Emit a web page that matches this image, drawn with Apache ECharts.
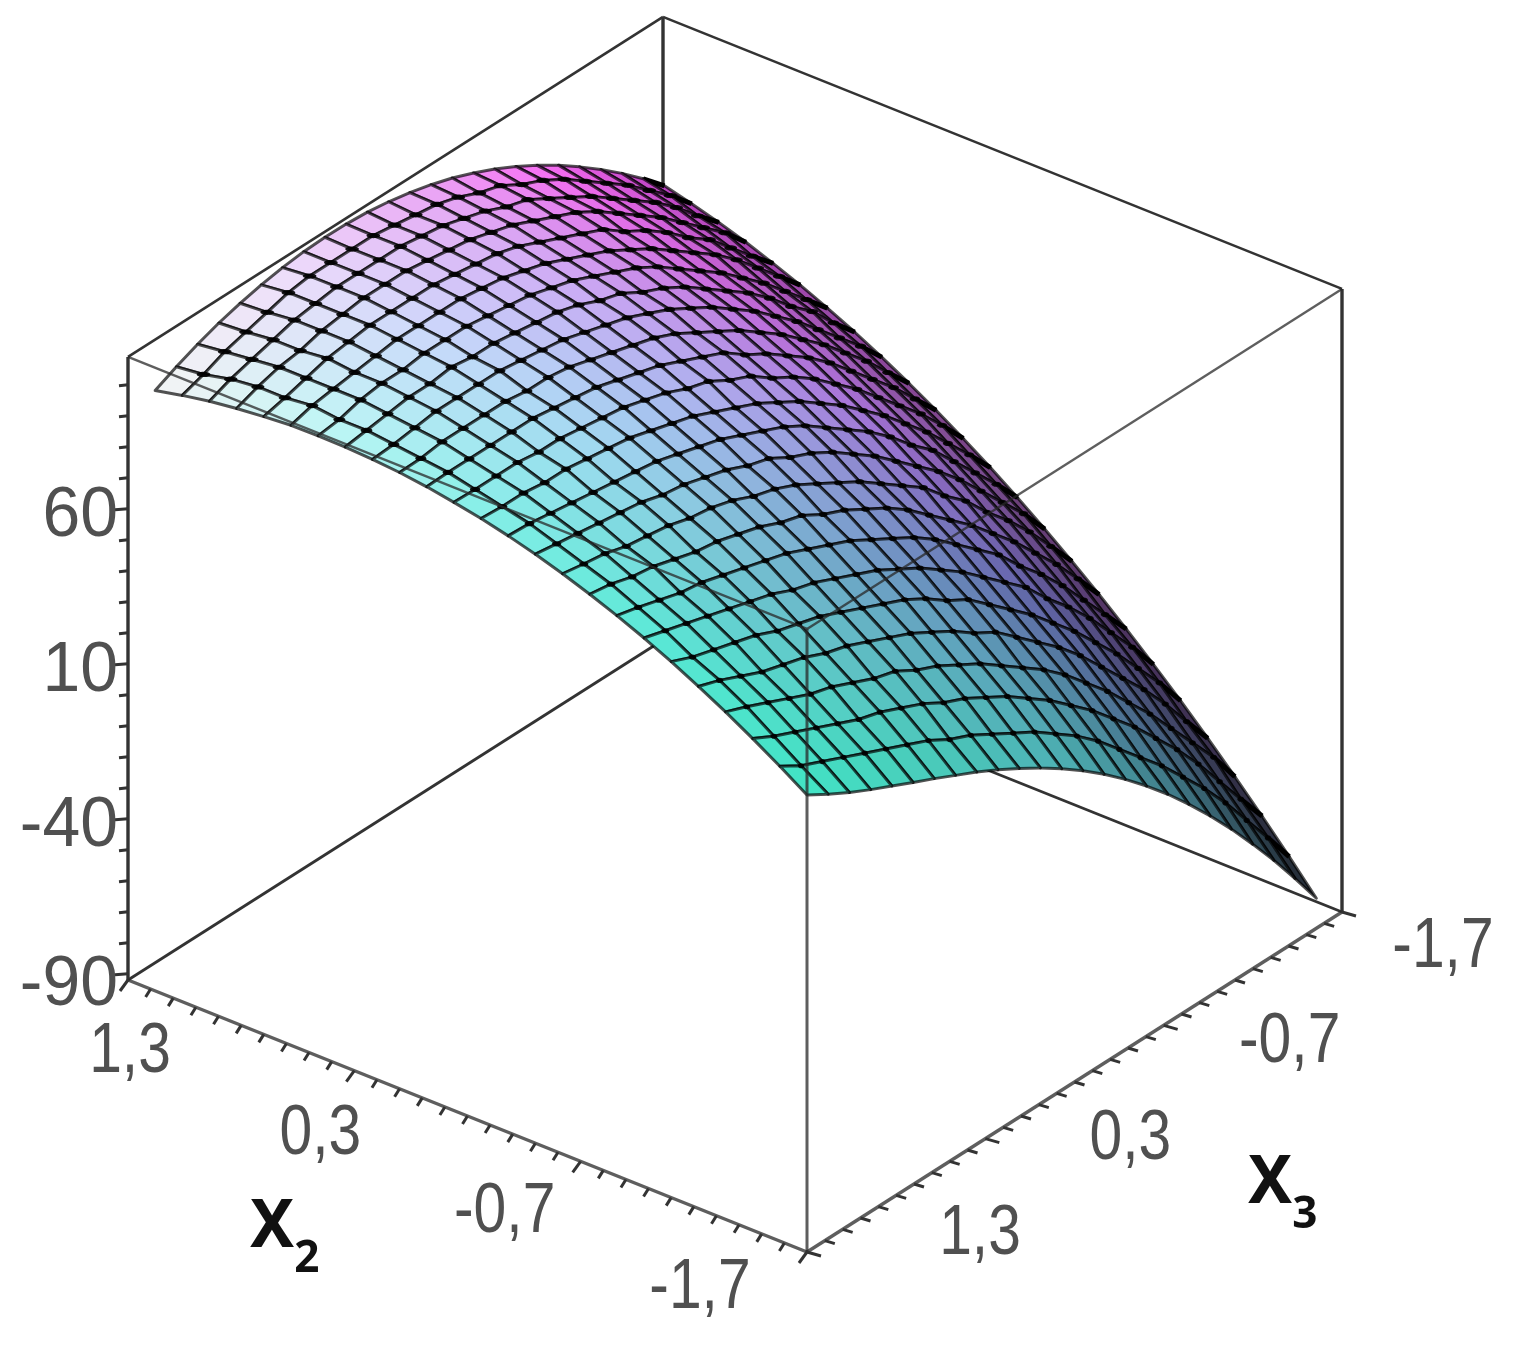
<!DOCTYPE html>
<html><head><meta charset="utf-8"><style>html,body{margin:0;padding:0;background:#fff}#c{width:1514px;height:1348px}#c canvas{filter:blur(.7px)}</style>
<script src="https://cdn.jsdelivr.net/npm/echarts@6/dist/echarts.min.js"></script></head><body><div id="c"></div><script>
const x2Values=[-1.7,-1.58,-1.46,-1.34,-1.22,-1.1,-0.98,-0.86,-0.74,-0.62,-0.5,-0.38,-0.26,-0.14,-0.02,0.1,0.22,0.34,0.46,0.58,0.7,0.82,0.94,1.06,1.18];
const x3Values=[1.3,1.181,1.062,0.943,0.824,0.705,0.586,0.467,0.348,0.229,0.11,-0.009,-0.128,-0.247,-0.366,-0.485,-0.604,-0.723,-0.842,-0.961,-1.08,-1.199,-1.318,-1.437,-1.556];
const zRows=[
[55.4,51.3,47.5,44.1,40.9,37.7,34.6,31.3,28,24.4,20.5,16.3,11.7,6.7,1.2,-4.8,-11.3,-18.3,-25.9,-34,-42.6,-51.8,-61.4,-71.6,-82.3],
[61.2,57,54,51,48,45,42,39,35,32,28,24,20,15,10,4,-3,-10,-17,-25,-33,-42,-52,-62,-72.4],
[66.6,63,60,57,54,51,49,46,43,39,36,32,28,23,18,12,6,-1,-8,-16,-24,-33,-43,-53,-62.8],
[71.7,69,66,63,60,58,55,52,50,46,43,39,35,30,25,20,14,7,0,-8,-16,-25,-34,-43,-53.6],
[76.4,74,71,68,66,64,61,59,56,53,50,46,42,37,33,27,21,15,8,0,-8,-16,-25,-35,-44.7],
[80.9,78,76,74,72,69,67,65,62,59,56,53,49,44,40,34,28,22,15,8,0,-8,-17,-26,-36.1],
[85,83,81,79,77,75,73,70,68,65,62,59,55,51,46,41,35,29,23,15,8,0,-9,-18,-27.9],
[88.7,87,85,83,82,80,78,76,74,71,68,65,61,57,53,48,42,36,30,22,15,7,-2,-11,-20],
[92.1,91,89,88,86,84,83,81,79,76,74,70,67,63,59,54,48,42,36,29,22,14,6,-3,-12.4],
[95.2,94,93,91,90,89,87,86,84,81,79,76,72,68,64,59,54,49,42,36,28,21,13,4,-5.2],
[98,97,96,95,94,93,91,90,88,86,83,81,77,74,70,65,60,54,48,42,35,27,19,11,1.7],
[100.4,100,99,98,97,96,95,94,92,90,88,85,82,79,75,70,65,60,54,47,41,33,25,17,8.3],
[102.5,102,102,101,101,100,99,98,96,94,92,89,86,83,79,75,70,65,59,53,46,39,31,23,14.5],
[104.2,104,104,104,103,103,102,101,100,98,96,93,91,87,84,79,75,70,64,58,51,44,37,29,20.4],
[105.7,106,106,106,106,106,105,104,103,101,99,97,94,91,88,83,79,74,69,63,56,49,42,34,26],
[106.8,107,108,108,108,108,107,107,106,104,102,100,98,95,91,87,83,78,73,67,61,54,47,39,31.2],
[107.5,108,109,110,110,110,110,109,108,107,105,103,101,98,95,91,87,82,77,71,65,58,51,44,36.1],
[108,109,110,111,111,112,111,111,110,109,108,106,103,101,97,94,90,85,80,75,69,62,56,48,40.7],
[108.1,109,111,112,112,113,113,113,112,111,110,108,106,103,100,97,93,88,83,78,72,66,59,52,44.9],
[108,110,111,112,113,114,114,114,114,113,112,110,108,105,102,99,95,91,86,81,76,70,63,56,48.8],
[107.3,109,111,113,114,115,115,115,115,114,113,112,110,107,104,101,98,93,89,84,78,73,66,59,52.3],
[106.4,109,111,112,114,115,116,116,116,115,114,113,111,109,106,103,100,96,91,86,81,75,69,63,55.6],
[105.2,108,110,112,114,115,116,116,116,116,115,114,112,110,107,105,101,97,93,88,83,78,72,65,58.5],
[103.6,106,109,111,113,115,116,116,116,116,115,114,113,111,108,106,102,99,95,90,85,80,74,68,61],
[101.7,105,107.9,110.4,112.4,114,115.2,116,116.3,116.2,115.7,114.7,113.3,111.5,109.3,106.6,103.5,100,96,91.7,86.8,81.6,76,69.9,63.3]];
const zTicks=[-90,-80,-70,-60,-50,-40,-30,-20,-10,0,10,20,30,40,50,60,70,80,90,100];
const xTicks=[1.3,1.2,1.1,1,0.9,0.8,0.7,0.6,0.5,0.4,0.3,0.2,0.1,0,-0.1,-0.2,-0.3,-0.4,-0.5,-0.6,-0.7,-0.8,-0.9,-1,-1.1,-1.2,-1.3,-1.4,-1.5,-1.6,-1.7];
const zLabels=[-90,-40,10,60];
const xLabelVals=[1.3,0.3,-0.7,-1.7];
const xLabelText=['1,3','0,3','-0,7','-1,7'];
const colorRows=[
[[64,228,196],[70,205,185],[75,180,180],[60,120,130],[32,40,48]],
[[90,235,215],[110,190,205],[110,150,195],[100,100,170],[70,45,85]],
[[130,240,230],[160,215,240],[170,170,235],[165,115,215],[115,65,125]],
[[190,248,245],[200,215,250],[205,170,245],[205,105,220],[150,70,165]],
[[245,245,245],[240,220,250],[235,170,245],[250,110,245],[185,60,190]]];
function P(x2,x3,z){const u=(1.3-x2)/3,v=(1.3-x3)/3;return [128+679*u+535*v,980+272*u-340*v-3.1*(z+92)];}
const Zlo=-92,Zhi=109,Hi=1.3,Lo=-1.7;
function colorAt(s,t){const a=s*4,b=t*4;const i=Math.min(3,Math.floor(a)),j=Math.min(3,Math.floor(b));const f=a-i,g=b-j;const c=[0,1,2].map(k=>(1-f)*(1-g)*colorRows[i][j][k]+f*(1-g)*colorRows[i+1][j][k]+(1-f)*g*colorRows[i][j+1][k]+f*g*colorRows[i+1][j+1][k]);return `rgb(${c.map(Math.round).join(',')})`;}
const cells=[];for(let i=x2Values.length-2;i>=0;i--)for(let j=x3Values.length-2;j>=0;j--)cells.push([i,j]);
const backEdges=[[[Hi,Hi,Zlo],[Hi,Hi,Zhi],3.4],[[Lo,Lo,Zlo],[Lo,Lo,Zhi],3.4],[[Hi,Lo,Zlo],[Hi,Lo,Zhi],3.4],[[Hi,Hi,Zhi],[Hi,Lo,Zhi],2.6],[[Hi,Lo,Zhi],[Lo,Lo,Zhi],2.6],[[Hi,Hi,Zlo],[Hi,Lo,Zlo],2.8],[[Hi,Lo,Zlo],[Lo,Lo,Zlo],2.8]];
const frontEdges=[[[Lo,Hi,Zlo],[Lo,Hi,Zhi],3],[[Hi,Hi,Zhi],[Lo,Hi,Zhi],2.4],[[Lo,Hi,Zhi],[Lo,Lo,Zhi],2.4],[[Hi,Hi,Zlo],[Lo,Hi,Zlo],3.4],[[Lo,Hi,Zlo],[Lo,Lo,Zlo],3.4]];
const lineCol='#333',txt='#505050',numFont='"Liberation Sans",sans-serif';
function edgeSeries(list,color){return {type:'custom',coordinateSystem:'cartesian2d',clip:false,silent:true,data:list.map((e,i)=>[i,0]),renderItem:(p,api)=>{const e=list[p.dataIndex];const a=api.coord(P(...e[0])),b=api.coord(P(...e[1]));return {type:'line',shape:{x1:a[0],y1:a[1],x2:b[0],y2:b[1]},style:{stroke:color,lineWidth:e[2]}};}};}
const ticks=[];
zTicks.forEach(v=>{const m=zLabels.includes(v);ticks.push({a:P(Hi,Hi,v),dx:m?-13:-9,dy:1});});
xTicks.forEach((v,k)=>{const m=k%10===0;ticks.push({a:P(v,Hi,Zlo),dx:m?-8:-5,dy:m?11:8});ticks.push({a:P(Lo,v,Zlo),dx:m?14:10,dy:m?4:3});});
const labels=[];
const zOff=[12,8,8,8];zLabels.forEach((v,i)=>{const a=P(Hi,Hi,v);labels.push({p:[118,a[1]+zOff[i]],t:String(v),al:'right',sx:.97});});
const x2Off=[[2,73],[-34,64],[-76,51],[-107,37]];xLabelVals.forEach((v,i)=>{const a=P(v,Hi,Zlo);labels.push({p:[a[0]+x2Off[i][0],a[1]+x2Off[i][1]],t:xLabelText[i],al:'center',sx:.84});});
const x3Off=[[173,-17],[145,1],[126,17],[101,36]];xLabelVals.forEach((v,i)=>{const a=P(Lo,v,Zlo);labels.push({p:[a[0]+x3Off[i][0],a[1]+x3Off[i][1]],t:xLabelText[i],al:'center',sx:.84});});
const titles=[{p:[250,1238],sub:'2'},{p:[1248,1194],sub:'3'}];
const N=x2Values.length-1,M=x3Values.length-1;
const option={animation:false,backgroundColor:'#fff',
grid:{left:0,right:0,top:0,bottom:0},
xAxis:{type:'value',min:0,max:1514,show:false},
yAxis:{type:'value',min:0,max:1348,inverse:true,show:false},
series:[
edgeSeries(backEdges,lineCol),
{type:'custom',coordinateSystem:'cartesian2d',clip:false,silent:true,data:cells,renderItem:(p,api)=>{const [i,j]=cells[p.dataIndex];
 const pts=[[i,j],[i+1,j],[i+1,j+1],[i,j+1]].map(([a,b])=>api.coord(P(x2Values[a],x3Values[b],zRows[a][b])));
 const s=(i+1)/N;
 const kids=[{type:'polygon',shape:{points:pts},style:{fill:colorAt((i+.5)/N,(j+.5)/M),stroke:'rgba(0,0,0,.68)',lineWidth:3,lineJoin:'round'}}];
 if(j===M-1)kids.push({type:'line',shape:{x1:pts[1][0],y1:pts[1][1],x2:pts[2][0],y2:pts[2][1]},style:{stroke:'#000',lineWidth:5}});
 else if(i!==N-1)kids.push({type:'ellipse',shape:{cx:pts[2][0],cy:pts[2][1],rx:3+4*s,ry:2.6},style:{fill:'rgba(0,0,0,.9)'}});
 return {type:'group',children:kids};}},
edgeSeries(frontEdges,'rgba(40,40,40,.75)'),
{type:'custom',coordinateSystem:'cartesian2d',clip:false,silent:true,data:ticks.map((_,i)=>[i,0]),renderItem:(p,api)=>{const t=ticks[p.dataIndex];const a=api.coord(t.a);return {type:'line',shape:{x1:a[0],y1:a[1],x2:a[0]+t.dx,y2:a[1]+t.dy},style:{stroke:lineCol,lineWidth:3}};}},
{type:'custom',coordinateSystem:'cartesian2d',clip:false,silent:true,data:labels.map((_,i)=>[i,0]),renderItem:(p,api)=>{const l=labels[p.dataIndex];const a=api.coord(l.p);return {type:'text',x:a[0],y:a[1],scaleX:l.sx,style:{text:l.t,fill:txt,fontSize:70,fontFamily:numFont,align:l.al,verticalAlign:'middle'}};}},
{type:'custom',coordinateSystem:'cartesian2d',clip:false,silent:true,data:titles.map((_,i)=>[i,0]),renderItem:(p,api)=>{const l=titles[p.dataIndex];const a=api.coord(l.p);return {type:'text',x:a[0],y:a[1],style:{text:'{a|X}{b|'+l.sub+'}',fill:'#111',align:'left',verticalAlign:'middle',rich:{a:{fontSize:66,fontWeight:'bold',fontFamily:'"Noto Sans",sans-serif',fill:'#111',lineHeight:86,verticalAlign:'top'},b:{fontSize:44,fontWeight:'bold',fontFamily:'"Noto Sans",sans-serif',fill:'#111',lineHeight:62,verticalAlign:'bottom'}}}};}}
]};
const chart=echarts.init(document.getElementById('c'));chart.setOption(option);
</script></body></html>
